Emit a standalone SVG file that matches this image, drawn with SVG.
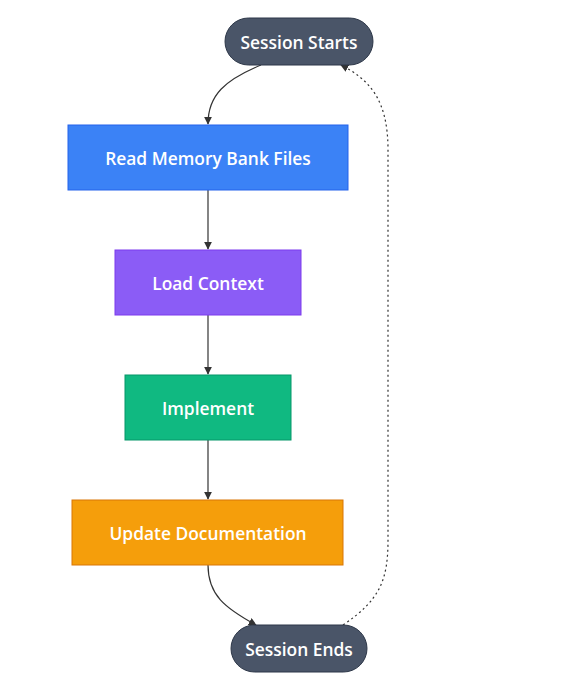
<svg xmlns="http://www.w3.org/2000/svg" width="584" height="692" viewBox="0 0 584 692">
<defs>
<style>
.lbl{font-family:"Open Sans","DejaVu Sans",sans-serif;font-size:17.4px;font-weight:600;fill:#ffffff;text-anchor:middle;dominant-baseline:central}
.edge{fill:none;stroke:#333333;stroke-width:1.2}
.dot{stroke-dasharray:2 3}
</style>
<marker id="arr" viewBox="0 0 10 10" refX="9" refY="5" markerWidth="8" markerHeight="8" orient="auto-start-reverse" markerUnits="userSpaceOnUse">
<path d="M0,0 L10,5 L0,10 z" fill="#333333"/>
</marker>
</defs>
<rect width="584" height="692" fill="#ffffff"/>
<g id="connectors">
<path class="edge" d="M261,65 C225,80 208,95 208,124" marker-end="url(#arr)"/>
<path class="edge" d="M208,190 L208,249" marker-end="url(#arr)"/>
<path class="edge" d="M208,315 L208,374" marker-end="url(#arr)"/>
<path class="edge" d="M208,440 L208,499" marker-end="url(#arr)"/>
<path class="edge" d="M208,565 C208,595 225,608 256,625" marker-end="url(#arr)"/>
<path class="edge dot" d="M343,625 C380,600 388,580 388,540 L388,150 C388,100 370,80 341,65" marker-end="url(#arr)"/>
</g>
<g id="start">
<rect x="225" y="18" width="148" height="47" rx="23.5" fill="#4a5568" stroke="#2d3748" stroke-width="1"/>
<text class="lbl" x="299" y="41.5">Session Starts</text>
</g>
<g id="read">
<rect x="68" y="125" width="280" height="65" fill="#3b82f6" stroke="#2563eb" stroke-width="1"/>
<text class="lbl" x="208" y="157.5">Read Memory Bank Files</text>
</g>
<g id="load">
<rect x="115" y="250" width="186" height="65" fill="#8b5cf6" stroke="#7c3aed" stroke-width="1"/>
<text class="lbl" x="208" y="282.5">Load Context</text>
</g>
<g id="implement">
<rect x="125" y="375" width="166" height="65" fill="#10b981" stroke="#059669" stroke-width="1"/>
<text class="lbl" x="208" y="407.5">Implement</text>
</g>
<g id="update">
<rect x="72" y="500" width="271" height="65" fill="#f59e0b" stroke="#d97706" stroke-width="1"/>
<text class="lbl" x="208" y="532.5">Update Documentation</text>
</g>
<g id="end">
<rect x="231" y="625" width="136" height="47" rx="23.5" fill="#4a5568" stroke="#2d3748" stroke-width="1"/>
<text class="lbl" x="299" y="648.5">Session Ends</text>
</g>
</svg>
